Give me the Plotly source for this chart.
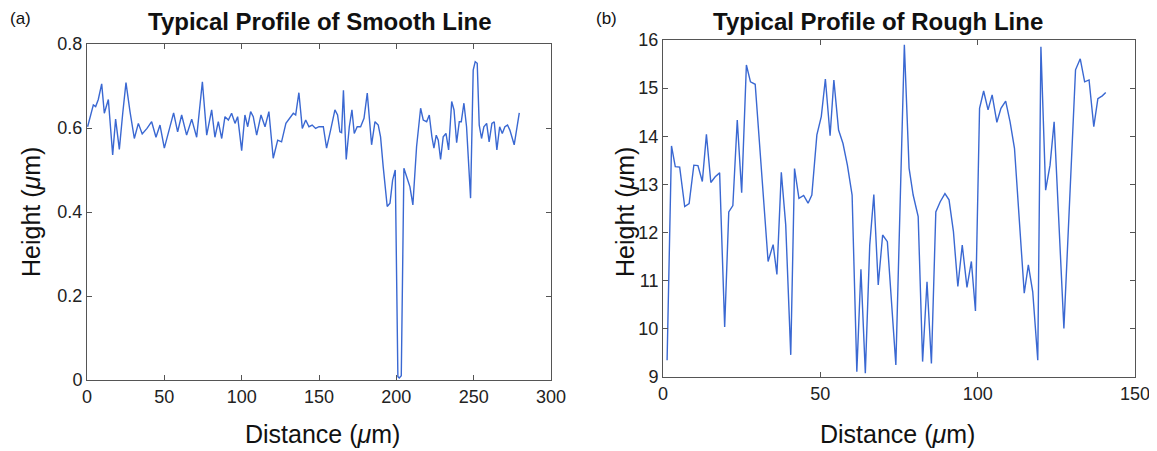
import plotly.graph_objects as go

# ---- Data: (a) smooth line profile ----
smooth_dist = [0.4, 1.9, 4.1, 5.6, 7.3, 9.5, 11.2, 13.8, 16.6, 18.5, 20.9, 23.1, 25.2, 27.8, 30.6, 33.2,
               35.7, 38.8, 41.8, 44.6, 47.2, 50.0, 53.0, 56.0, 58.6, 61.2, 64.4, 67.7, 70.9, 74.6, 77.4,
               80.6, 82.7, 84.9, 87.1, 89.2, 91.4, 93.5, 95.7, 97.4, 100.0, 102.1, 103.9, 105.8, 107.5,
               109.7, 112.5, 115.1, 117.6, 120.4, 123.3, 125.8, 128.6, 131.2, 133.4, 134.9, 137.0, 139.2,
               141.4, 143.5, 145.6, 147.8, 150.0, 152.8, 154.9, 157.5, 160.3, 162.0, 163.5, 164.6, 165.8,
               167.6, 169.6, 171.3, 172.8, 174.7, 176.9, 179.1, 181.2, 184.0, 186.2, 188.3, 189.8, 191.5,
               194.1, 195.9, 197.6, 199.3, 201.0, 201.9, 203.2, 204.9, 207.1, 208.8, 210.7, 213.1, 215.7,
               217.4, 219.6, 221.3, 223.0, 224.3, 225.8, 227.1, 228.6, 230.3, 232.1, 233.8, 235.8, 237.3,
               239.0, 240.7, 242.0, 243.7, 245.4, 248.0, 249.7, 251.0, 252.3, 253.6, 255.1, 256.6, 258.4,
               260.0, 261.8, 263.3, 265.0, 266.8, 268.5, 270.2, 271.9, 273.4, 276.2, 277.8, 279.5]
smooth_height = [0.603, 0.623, 0.655, 0.651, 0.668, 0.705, 0.635, 0.668, 0.536, 0.621, 0.549, 0.635,
                 0.708, 0.639, 0.575, 0.611, 0.586, 0.599, 0.615, 0.578, 0.607, 0.552, 0.595, 0.636,
                 0.591, 0.631, 0.583, 0.621, 0.578, 0.710, 0.583, 0.643, 0.578, 0.615, 0.575, 0.627,
                 0.619, 0.635, 0.611, 0.627, 0.546, 0.631, 0.603, 0.639, 0.627, 0.583, 0.631, 0.603,
                 0.639, 0.528, 0.571, 0.567, 0.611, 0.623, 0.635, 0.631, 0.684, 0.599, 0.619, 0.603,
                 0.607, 0.599, 0.603, 0.603, 0.552, 0.595, 0.643, 0.631, 0.591, 0.589, 0.690, 0.525,
                 0.603, 0.643, 0.587, 0.603, 0.603, 0.623, 0.683, 0.560, 0.615, 0.607, 0.579, 0.508,
                 0.413, 0.421, 0.476, 0.500, 0.008, 0.005, 0.010, 0.504, 0.476, 0.460, 0.417, 0.556,
                 0.647, 0.619, 0.615, 0.631, 0.579, 0.552, 0.583, 0.571, 0.525, 0.579, 0.587, 0.548,
                 0.663, 0.643, 0.565, 0.615, 0.615, 0.659, 0.603, 0.433, 0.738, 0.758, 0.754, 0.607,
                 0.575, 0.603, 0.611, 0.567, 0.611, 0.615, 0.548, 0.603, 0.587, 0.603, 0.607, 0.595,
                 0.560, 0.603, 0.636]

# ---- Data: (b) rough line profile ----
rough_dist = [1.3, 2.7, 3.9, 5.3, 6.9, 8.3, 9.8, 11.1, 12.5, 13.8, 15.2, 16.6, 18.0, 19.6, 20.9, 22.2,
              23.6, 25.0, 26.5, 27.8, 29.3, 33.4, 35.0, 36.2, 37.6, 39.0, 40.6, 41.8, 43.2, 44.7, 46.1,
              47.3, 48.9, 50.3, 51.6, 53.1, 54.3, 55.8, 57.2, 58.6, 60.1, 61.6, 62.9, 64.3, 65.7, 67.0,
              68.4, 69.8, 71.3, 74.0, 76.7, 78.2, 79.5, 81.1, 82.5, 83.9, 85.3, 86.7, 88.1, 89.6, 90.9,
              92.3, 93.7, 95.1, 96.6, 98.0, 99.3, 100.6, 101.9, 103.3, 104.6, 106.1, 107.4, 108.9, 110.3,
              111.7, 114.8, 116.1, 117.5, 119.1, 120.1, 121.6, 123.0, 124.3, 127.4, 131.1, 132.6, 134.0,
              135.4, 136.9, 138.2, 139.6, 140.7]
rough_height = [9.35, 13.80, 13.37, 13.36, 12.54, 12.60, 13.40, 13.39, 13.06, 14.04, 13.04, 13.16, 13.24,
                10.04, 12.43, 12.56, 14.34, 12.83, 15.48, 15.13, 15.08, 11.40, 11.75, 11.13, 13.25, 12.16,
                9.46, 13.33, 12.71, 12.77, 12.61, 12.78, 14.03, 14.41, 15.19, 14.01, 15.17, 14.13, 13.85,
                13.40, 12.78, 9.11, 11.24, 9.08, 11.74, 12.79, 10.91, 11.95, 11.81, 9.25, 15.90, 13.34,
                12.78, 12.33, 9.32, 10.98, 9.28, 12.43, 12.64, 12.81, 12.68, 12.02, 10.88, 11.74, 10.86,
                11.40, 10.37, 14.58, 14.94, 14.55, 14.86, 14.29, 14.58, 14.73, 14.30, 13.75, 10.74, 11.33,
                10.77, 9.35, 15.86, 12.88, 13.40, 14.30, 10.01, 15.38, 15.61, 15.13, 15.17, 14.20, 14.78,
                14.84, 14.91]

left_xticks = [0, 50, 100, 150, 200, 250, 300]
left_yticks = [0, 0.2, 0.4, 0.6, 0.8]
left_yticklabels = ["0", "0.2", "0.4", "0.6", "0.8"]
right_xticks = [0, 50, 100, 150]
right_yticks = [9, 10, 11, 12, 13, 14, 15, 16]

LINE = "rgb(58,104,210)"
AX = "#555555"
FONT = "Liberation Sans, Arial, sans-serif"

fig = go.Figure()
fig.add_trace(go.Scatter(x=smooth_dist, y=smooth_height, mode="lines",
                         line=dict(color=LINE, width=1.4), xaxis="x", yaxis="y", showlegend=False))
fig.add_trace(go.Scatter(x=rough_dist, y=rough_height, mode="lines",
                         line=dict(color=LINE, width=1.4), xaxis="x2", yaxis="y2", showlegend=False))

# the page body has an 8px margin; lay out in window pixels and compensate
OFF = 8
W, H = 1157 - OFF, 451 - OFF


def fx(px):
    return (px - OFF) / W


def fy(py):
    return 1 - (py - OFF) / H


def axis_common():
    return dict(showgrid=False, zeroline=False, showline=True, linecolor=AX, linewidth=1,
                mirror="ticks", ticks="inside", ticklen=5, tickcolor=AX, automargin=False,
                tickfont=dict(family=FONT, size=18, color="#222222"))


fig.update_layout(
    template="none",
    width=W, height=H, margin=dict(l=0, r=0, t=0, b=0, autoexpand=False),
    paper_bgcolor="white", plot_bgcolor="white",
    xaxis=dict(domain=[fx(87), fx(551)], range=[0, 300], tickvals=left_xticks, anchor="y",
               **axis_common()),
    yaxis=dict(domain=[fy(380), fy(44)], range=[0, 0.8], tickvals=left_yticks,
               ticktext=left_yticklabels, anchor="x", **axis_common()),
    xaxis2=dict(domain=[fx(663), fx(1135)], range=[0, 150], tickvals=right_xticks, anchor="y2",
                **axis_common()),
    yaxis2=dict(domain=[fy(377), fy(40)], range=[9, 16], tickvals=right_yticks,
                anchor="x2", **axis_common()),
)


def ann(text, x, y, size, bold=False, angle=0, xanchor="center"):
    t = f"<b>{text}</b>" if bold else text
    fig.add_annotation(text=t, x=fx(x), y=fy(y), xref="paper", yref="paper",
                       showarrow=False, textangle=angle, xanchor=xanchor, yanchor="middle",
                       font=dict(family=FONT, size=size, color="#111111"))


ann("Typical Profile of Smooth Line", 320, 22, 24, bold=True)
ann("Typical Profile of Rough Line", 878, 22, 24, bold=True)
ann("(a)", 20, 19, 17)
ann("(b)", 606, 19, 17)
ann("Distance (<i>μ</i>m)", 322, 434, 25)
ann("Distance (<i>μ</i>m)", 897, 434, 25)
ann("Height (<i>μ</i>m)", 31, 212, 25, angle=-90)
ann("Height (<i>μ</i>m)", 625, 212, 25, angle=-90)

fig.write_html("out.html")
